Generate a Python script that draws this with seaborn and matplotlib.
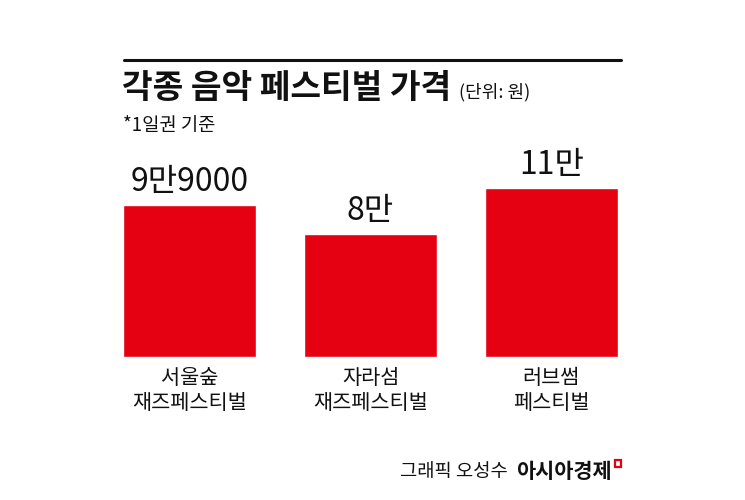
import matplotlib
matplotlib.use("Agg")
import matplotlib.pyplot as plt
import seaborn as sns
import pandas as pd
from matplotlib.patches import Rectangle
from matplotlib.lines import Line2D

categories = ["서울숲\n재즈페스티벌", "자라섬\n재즈페스티벌", "러브썸\n페스티벌"]
prices = [99000, 80000, 110000]
value_labels = ["9만9000", "8만", "11만"]

title = "각종 음악 페스티벌 가격"
unit = "(단위: 원)"
subtitle = "*1일권 기준"
credit = "그래픽 오성수"
brand = "아시아경제"

RED = "#e50012"
FONT = ["Noto Sans CJK KR", "DejaVu Sans"]

sns.set_theme(style="white")
plt.rcParams["font.family"] = FONT

W, H = 745, 500
fig = plt.figure(figsize=(W / 100, H / 100), dpi=100)

def fx(px):
    return px / W

def fy(py):
    return 1 - py / H

# axes: x from 99 to 642 px, y bottom 357, top 172
ax = fig.add_axes([fx(99), fy(357), fx(642) - fx(99), (357 - 172.2) / H])
df = pd.DataFrame({"cat": categories, "price": prices})
sns.barplot(data=df, x="cat", y="price", color=RED, saturation=1, width=0.735, ax=ax)
ax.set_xlim(-0.5, 2.5)
ax.set_ylim(0, 120000)
for s in ax.spines.values():
    s.set_visible(False)
ax.set_yticks([])
ax.set_xlabel("")
ax.set_ylabel("")
ax.tick_params(axis="x", length=0, pad=7)
for lbl in ax.get_xticklabels():
    lbl.set_fontsize(15)
    lbl.set_color("#111111")
    lbl.set_linespacing(1.2)
    lbl.set_verticalalignment("top")

for i, (v, t) in enumerate(zip(prices, value_labels)):
    ax.annotate(t, xy=(i, v), xytext=(0, 5), textcoords="offset points",
                ha="center", va="bottom", fontsize=23, fontweight="medium",
                color="#111111", annotation_clip=False)

# top rule
fig.add_artist(Line2D([fx(124), fx(621)], [fy(60), fy(60)], color="#111111", lw=2.2))

t = fig.text(fx(122), fy(89), title, fontsize=24, fontweight="heavy", color="#111111",
             ha="left", va="center")
fig.canvas.draw()
bb = t.get_window_extent()
fig.text((bb.x1 + 8) / W, fy(92), unit, fontsize=13, color="#111111", ha="left", va="center")
fig.text(fx(123), fy(126), subtitle, fontsize=13.5, color="#111111", ha="left", va="center")

fig.text(fx(508), fy(471), credit, fontsize=13.5, color="#111111", ha="right", va="center")
fig.text(fx(516), fy(471), brand, fontsize=15, fontweight="bold", color="#111111",
         ha="left", va="center")
fig.add_artist(Rectangle((fx(614.5), fy(467)), fx(6), 7 / H, fill=False, edgecolor=RED, lw=1.6))

fig.savefig("out.png", dpi=100, facecolor="white")
